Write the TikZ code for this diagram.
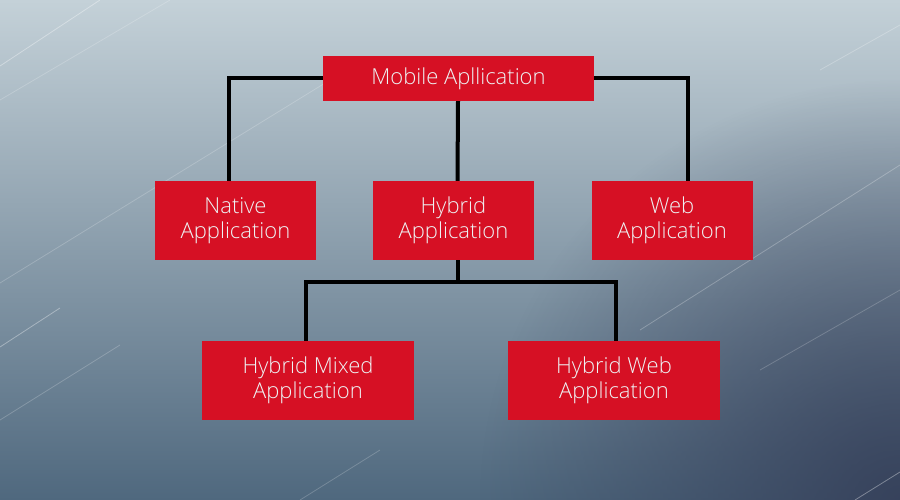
\documentclass[tikz,border=0pt]{standalone}
\usepackage{fontspec}
\IfFontExistsTF{Open Sans Light}{\setmainfont{Open Sans Light}}{\setmainfont{Open Sans}}
\usepackage{tikz}
\usetikzlibrary{calc,fadings}
\definecolor{appred}{HTML}{D61024}
\definecolor{apptext}{HTML}{EEF3F4}
\definecolor{bgtop}{HTML}{C4D1D8}
\definecolor{bgmid}{HTML}{A3B4BE}
\definecolor{bgbot}{HTML}{4F687E}
\definecolor{bgcorner}{HTML}{343E58}
\tikzfading[name=cornerfade,inner color=transparent!0,outer color=transparent!100]

\begin{document}
\begin{tikzpicture}[x=1pt,y=-1pt,
  box/.style={fill=appred,text=apptext,align=center,inner sep=0pt,
    font=\fontsize{22}{25}\selectfont},
  link/.style={line width=4pt,black},
  streak/.style={white,opacity=0.35,line width=0.8pt}]
% background
\shade[top color=bgtop,middle color=bgmid,bottom color=bgbot]
  (0,0) rectangle (900,500);
\begin{scope}
\clip (0,0) rectangle (900,500);
\fill[bgcorner,path fading=cornerfade,opacity=0.9] (900,500) circle (420);
\end{scope}
\useasboundingbox (0,0) rectangle (900,500);
\draw[streak] (0,66) -- (100,0);
\draw[streak,opacity=0.2] (0,100) -- (170,0);
\draw[streak,opacity=0.2] (0,283) -- (330,80);
\draw[streak] (0,347) -- (60,308);
\draw[streak,opacity=0.2] (0,420) -- (120,345);
\draw[streak,opacity=0.25] (640,330) -- (900,165);
\draw[streak,opacity=0.2] (760,370) -- (900,290);
\draw[streak] (855,500) -- (900,472);
\draw[streak,opacity=0.25] (820,70) -- (900,25);
\draw[streak,opacity=0.2] (300,500) -- (380,450);

% boxes
\node[box,minimum width=271,minimum height=45] (mobile) at (458.5,78.5) {Mobile Apllication};
\node[box,minimum width=161,minimum height=79] (native) at (235.5,220.5) {Native\\Application};
\node[box,minimum width=161,minimum height=79] (hybrid) at (453.5,220.5) {Hybrid\\Application};
\node[box,minimum width=161,minimum height=79] (web) at (672,220.5) {Web\\Application};
\node[box,minimum width=212,minimum height=79] (mixed) at (308,380.5) {Hybrid Mixed\\Application};
\node[box,minimum width=212,minimum height=79] (hweb) at (614,380.5) {Hybrid Web\\Application};

% connectors
\draw[link] (mobile.west) -| ([xshift=-6.5]native.north);
\draw[link] (mobile.east) -| ([xshift=16]web.north);
\draw[link] ([xshift=-0.5]mobile.south) -- ([xshift=4]hybrid.north);
\coordinate (split) at ($([xshift=4]hybrid.south)+(0,22)$);
\draw[link] ([xshift=4]hybrid.south) -- (split);
\draw[link] (split) -| ([xshift=-2]mixed.north);
\draw[link] (split) -| ([xshift=2]hweb.north);
\end{tikzpicture}
\end{document}
